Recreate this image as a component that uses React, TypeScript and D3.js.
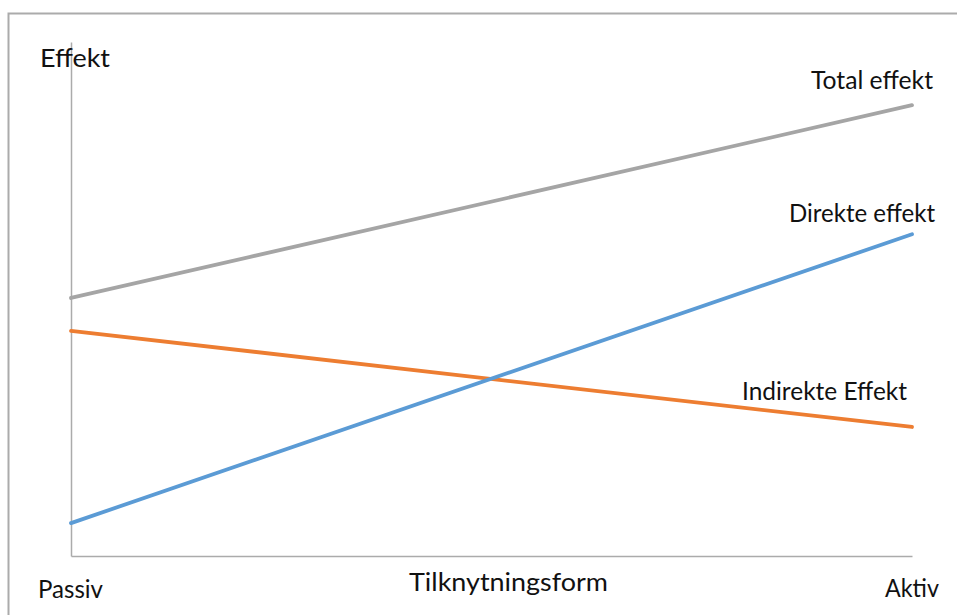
import React, { useEffect, useRef } from "react";
import * as d3 from "d3";

// x categories (two ends of the axis)
const categories = ["Passiv", "Aktiv"];

// series values (0-100 scale)
const seriesNames = ["Total effekt", "Indirekte Effekt", "Direkte effekt"];
const totalValues = [50.2, 87.7];
const indirekteValues = [43.8, 25.1];
const direkteValues = [6.4, 62.6];
const seriesColors = ["#A5A5A5", "#ED7D31", "#5B9BD5"];

const yTitle = "Effekt";
const xTitle = "Tilknytningsform";

const width = 957;
const height = 615;
const margin = { top: 42, right: 45, bottom: 59, left: 71 };

function App() {
    const svgRef = useRef<SVGSVGElement | null>(null);

    useEffect(() => {
        document.body.style.overflow = "hidden";
        const svg = d3.select(svgRef.current);
        svg.selectAll("*").remove();

        const font = "Lato, 'Open Sans', sans-serif";

        const x = d3
            .scalePoint()
            .domain(categories)
            .range([margin.left, width - margin.right]);
        const y = d3
            .scaleLinear()
            .domain([0, 100])
            .range([height - margin.bottom, margin.top]);

        // outer chart frame: only the top and left edges fall inside the picture
        svg
            .append("path")
            .attr("d", `M8.5,${height}V13.5H${width}`)
            .attr("fill", "none")
            .attr("stroke", "#ABABAB")
            .attr("stroke-width", 2);

        // axes (plain lines, no ticks)
        const axisColor = "#ABABAB";
        svg
            .append("g")
            .attr("transform", `translate(${margin.left},0)`)
            .call(d3.axisLeft(y).tickValues([]).tickSizeOuter(0))
            .call((g) => g.select(".domain").attr("stroke", axisColor).attr("stroke-width", 1.5));
        svg
            .append("g")
            .attr("transform", `translate(0,${height - margin.bottom})`)
            .call(d3.axisBottom(x).tickValues([]).tickSizeOuter(0))
            .call((g) => g.select(".domain").attr("stroke", axisColor).attr("stroke-width", 1.5));

        // lines
        const allValues = [totalValues, indirekteValues, direkteValues];
        const line = d3
            .line<number>()
            .x((d, i) => x(categories[i]) as number)
            .y((d) => y(d));

        svg
            .append("g")
            .selectAll("path")
            .data(allValues)
            .join("path")
            .attr("d", (d) => line(d))
            .attr("fill", "none")
            .attr("stroke", (d, i) => seriesColors[i])
            .attr("stroke-width", 3.8)
            .attr("stroke-linecap", "round");

        // texts
        const labels = [
            { text: yTitle, x: 40, y: 67, len: 70 },
            { text: seriesNames[0], x: 811, y: 89, len: 122 },
            { text: seriesNames[2], x: 789, y: 222, len: 146 },
            { text: seriesNames[1], x: 742, y: 400, len: 165 },
            { text: categories[0], x: 38, y: 598, len: 65 },
            { text: xTitle, x: 409, y: 591, len: 199 },
            { text: categories[1], x: 885, y: 597, len: 54 },
        ];
        svg
            .append("g")
            .selectAll("text")
            .data(labels)
            .join("text")
            .attr("x", (d) => d.x)
            .attr("y", (d) => d.y)
            .attr("textLength", (d) => d.len)
            .attr("lengthAdjust", "spacingAndGlyphs")
            .attr("font-family", font)
            .attr("font-size", 25)
            .attr("fill", "#111")
            .text((d) => d.text);
    }, []);

    return (
        <svg
            ref={svgRef}
            width={width}
            height={height}
            style={{ position: "absolute", left: 0, top: 0, background: "white" }}
        />
    );
}

export default App;
